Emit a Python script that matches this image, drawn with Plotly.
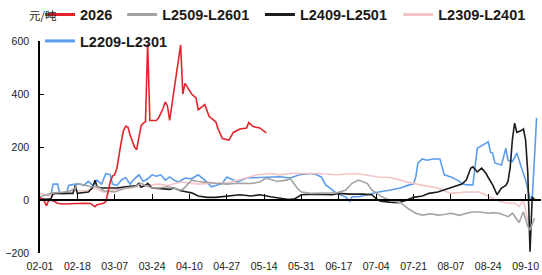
import plotly.graph_objects as go

YEAR = "2026"

# ---------------- data ----------------
S2026_DATES = ["02-01","02-03","02-04","02-05","02-07","02-09","02-11","02-15","02-18","02-21",
               "02-24","02-26","02-27","03-02","03-03","03-04","03-05","03-06","03-07","03-08",
               "03-09","03-10","03-11","03-12","03-13","03-14","03-16","03-17","03-19","03-20",
               "03-21","03-22","03-23","03-26","03-27","03-29","03-30","03-31","04-01","04-02",
               "04-04","04-06","04-07","04-08","04-11","04-13","04-14","04-17","04-19","04-22",
               "04-23","04-25","04-28","04-30","05-03","05-06","05-07","05-09","05-12","05-15"]
S2026_VALUES = [10,-5,-22,0,-3,-12,-15,-15,-13,-12,
                -13,-25,-18,-12,-5,30,70,90,95,120,
                180,220,262,278,275,245,200,190,280,290,
                295,590,300,300,310,345,370,355,300,360,
                470,585,400,440,400,385,340,360,315,295,
                270,232,226,255,268,272,292,277,272,253]

L2509_DATES = ["02-01","02-03","02-06","02-09","02-12","02-15","02-17","02-18","02-20","02-21",
               "02-24","02-27","03-02","03-04","03-07","03-10","03-12","03-16","03-19","03-21",
               "03-24","03-27","03-31","04-03","04-05","04-07","04-10","04-11","04-14","04-16",
               "04-22","04-27","05-02","05-08","05-12","05-15","05-17","05-20","05-24","05-26",
               "05-29","05-31","06-04","06-10","06-16","06-20","06-23","06-26","06-30","07-02",
               "07-04","07-07","07-10","07-15","07-19","07-22","07-25","07-29","08-01","08-04",
               "08-07","08-11","08-14","08-17","08-20","08-24","08-26","08-29","09-02","09-04",
               "09-07","09-09","09-11","09-12","09-14"]
L2509_VALUES = [12,18,25,28,30,35,45,63,60,57,
                50,52,35,32,30,40,45,50,63,55,
                45,45,50,45,37,40,68,75,70,68,
                63,60,63,62,68,83,78,70,75,80,
                45,30,25,25,27,37,63,75,62,38,
                28,10,0,-10,-35,-50,-57,-52,-57,-55,
                -50,-58,-50,-45,-45,-50,-48,-50,-63,-50,
                -85,-45,-100,-113,-68]

L2409_DATES = ["02-01","02-04","02-06","02-07","02-10","02-14","02-16","02-17","02-18","02-21",
               "02-23","02-25","02-26","02-27","03-01","03-04","03-08","03-12","03-17","03-18",
               "03-19","03-21","03-22","03-24","03-28","04-01","04-03","04-06","04-09","04-11",
               "04-14","04-18","04-22","04-27","05-03","05-08","05-12","05-17","05-21","05-25",
               "05-28","05-31","06-05","06-10","06-14","06-17","06-22","06-28","07-02","07-04",
               "07-06","07-10","07-14","07-17","07-21","07-25","07-28","08-01","08-04","08-07",
               "08-10","08-12","08-14","08-16","08-17","08-19","08-21","08-23","08-24","08-26",
               "08-28","08-30","09-01","09-02","09-03","09-04","09-05","09-06","09-08","09-09",
               "09-10","09-11","09-12","09-13","09-14"]
L2409_VALUES = [5,3,5,25,25,25,25,55,25,28,
                30,48,75,50,45,45,45,50,55,63,
                48,55,63,45,42,40,45,35,30,27,
                15,10,10,15,20,15,20,12,8,2,
                5,20,22,20,20,25,22,22,20,5,
                -5,-8,-10,-3,10,15,25,30,38,45,
                55,60,75,120,125,106,120,100,85,57,
                20,45,55,70,125,230,290,255,262,268,
                226,100,-195,10,5]

L2309_DATES = ["02-01","02-03","02-05","02-09","02-15","02-22","02-26","03-02","03-08","03-14",
               "03-21","03-27","03-31","04-06","04-10","04-14","04-20","04-28","05-02","05-11",
               "05-17","05-21","05-26","06-08","06-16","06-25","07-05","07-10","07-15","07-18",
               "07-24","08-01","08-07","08-14","08-20","08-25","08-29","09-02","09-05","09-07",
               "09-09","09-10","09-11","09-12"]
L2309_VALUES = [25,20,15,25,35,35,45,30,40,45,
                55,60,55,68,63,60,63,65,75,95,
                100,95,100,100,95,100,87,85,75,68,
                57,45,25,30,30,12,-5,-12,-12,-25,
                0,-37,-80,-60]

L2209_DATES = ["02-06","02-07","02-09","02-10","02-13","02-14","02-17","02-19","02-21","02-23",
               "02-25","02-27","03-01","03-03","03-05","03-06","03-08","03-10","03-12","03-14",
               "03-16","03-18","03-20","03-22","03-24","03-26","03-28","03-30","04-01","04-03",
               "04-05","04-08","04-11","04-14","04-17","04-20","04-22","04-25","04-27","05-02",
               "05-06","05-12","05-17","05-21","05-26","05-30","06-04","06-07","06-09","06-11",
               "06-13","06-16","06-20","06-22","06-23","06-26","06-30","07-02","07-05","07-10",
               "07-15","07-19","07-21","07-22","07-23","07-25","07-27","07-30","08-02","08-03",
               "08-04","08-07","08-10","08-12","08-14","08-17","08-18","08-19","08-22","08-24",
               "08-25","08-26","08-27","08-30","09-01","09-02","09-04","09-06","09-08","09-10",
               "09-12","09-13","09-15"]
L2209_VALUES = [20,60,60,25,25,55,60,60,55,70,
                55,75,60,100,95,60,55,75,85,60,
                80,95,70,80,95,90,95,75,87,75,
                68,83,80,95,75,50,55,63,87,68,
                83,85,87,88,83,95,100,95,87,57,
                45,25,12,-5,12,12,20,25,30,37,
                45,57,60,87,140,155,150,155,155,125,
                95,87,75,63,57,57,125,195,210,220,
                180,177,140,132,195,150,145,177,125,75,
                5,3,310]

SERIES = [
    ("L2209-L2301", L2209_DATES, L2209_VALUES, "#5b9ded"),
    ("L2309-L2401", L2309_DATES, L2309_VALUES, "#f5c4c6"),
    ("L2409-L2501", L2409_DATES, L2409_VALUES, "#1c1c1c"),
    ("L2509-L2601", L2509_DATES, L2509_VALUES, "#a3a3a3"),
    ("2026", S2026_DATES, S2026_VALUES, "#e3232b"),
]

LEGEND_ORDER = ["2026", "L2509-L2601", "L2409-L2501", "L2309-L2401", "L2209-L2301"]

TICK_LABELS = ["02-01","02-18","03-07","03-24","04-10","04-27","05-14","05-31",
               "06-17","07-04","07-21","08-07","08-24","09-10"]
Y_TICKS = [-200, 0, 200, 400, 600]
X_RANGE = [YEAR + "-02-01", YEAR + "-09-17"]
Y_RANGE = [-200, 600]
UNIT = "元/吨"

TICK_DATES = [YEAR + "-" + t for t in TICK_LABELS]

fig = go.Figure()

colors = {}
for name, dates, vals, col in SERIES:
    colors[name] = col
    fig.add_trace(go.Scatter(
        x=[YEAR + "-" + d for d in dates], y=vals, mode="lines", name=name,
        line=dict(color=col, width=1.6), showlegend=False, hoverinfo="skip"))

# legend entries (one legend per entry, positioned like the reference)
legend_pos = {
    "2026": (0.0, 1.125, "legend"),
    "L2509-L2601": (0.164, 1.125, "legend2"),
    "L2409-L2501": (0.439, 1.125, "legend3"),
    "L2309-L2401": (0.715, 1.125, "legend4"),
    "L2209-L2301": (0.0, 1.0, "legend5"),
}
for name in LEGEND_ORDER:
    fig.add_trace(go.Scatter(
        x=[None], y=[None], mode="lines", name=name,
        line=dict(color=colors[name], width=3), showlegend=True,
        legend=legend_pos[name][2]))

# helper trace for the zero-line axis
fig.add_trace(go.Scatter(x=[X_RANGE[0]], y=[None], xaxis="x2", yaxis="y",
                         mode="lines", showlegend=False, hoverinfo="skip"))

legend_font = dict(family="Liberation Sans, Arial, sans-serif", size=14.5,
                   color="#1a1a1a", weight="bold")
layout_legends = {}
for name in LEGEND_ORDER:
    x, y, key = legend_pos[name]
    layout_legends[key] = dict(x=x, y=y, xanchor="left", yanchor="middle",
                               orientation="h", bgcolor="rgba(0,0,0,0)",
                               borderwidth=0, font=legend_font)

tick_font = dict(family="Liberation Sans, Arial, sans-serif", size=10.5, color="#1a1a1a")

fig.update_layout(
    width=542, height=275, autosize=False,
    margin=dict(l=40, r=1, t=41, b=22, pad=0, autoexpand=False),
    paper_bgcolor="white", plot_bgcolor="white",
    xaxis=dict(type="date", range=X_RANGE, tickvals=TICK_DATES, ticktext=TICK_LABELS,
               showline=False, ticks="", showgrid=False, zeroline=False,
               tickfont=tick_font, ticklabelstandoff=5, automargin=False),
    xaxis2=dict(type="date", range=X_RANGE, overlaying="x", anchor="free", position=0.25,
                tickvals=TICK_DATES, showticklabels=False, showline=True,
                linecolor="#000000", linewidth=1.5, ticks="inside", ticklen=5,
                tickcolor="#000000", tickwidth=1.2, showgrid=False, zeroline=False),
    yaxis=dict(range=Y_RANGE, tickvals=Y_TICKS, showline=True, linecolor="#000000",
               linewidth=1.5, ticks="inside", ticklen=4, tickcolor="#000000", tickwidth=1.2,
               showgrid=False, zeroline=False, tickfont=tick_font, ticklabelstandoff=7,
               automargin=False),
    annotations=[dict(text=UNIT, xref="paper", yref="paper", x=-0.026, y=1.123,
                      xanchor="left", yanchor="middle", showarrow=False,
                      font=dict(family="Noto Sans CJK SC", size=11.5, color="#1a1a1a"))],
    **layout_legends,
)

fig.write_html("out.html", config={"displayModeBar": False},
               post_script="document.body.style.margin='0';document.body.style.padding='0';")
